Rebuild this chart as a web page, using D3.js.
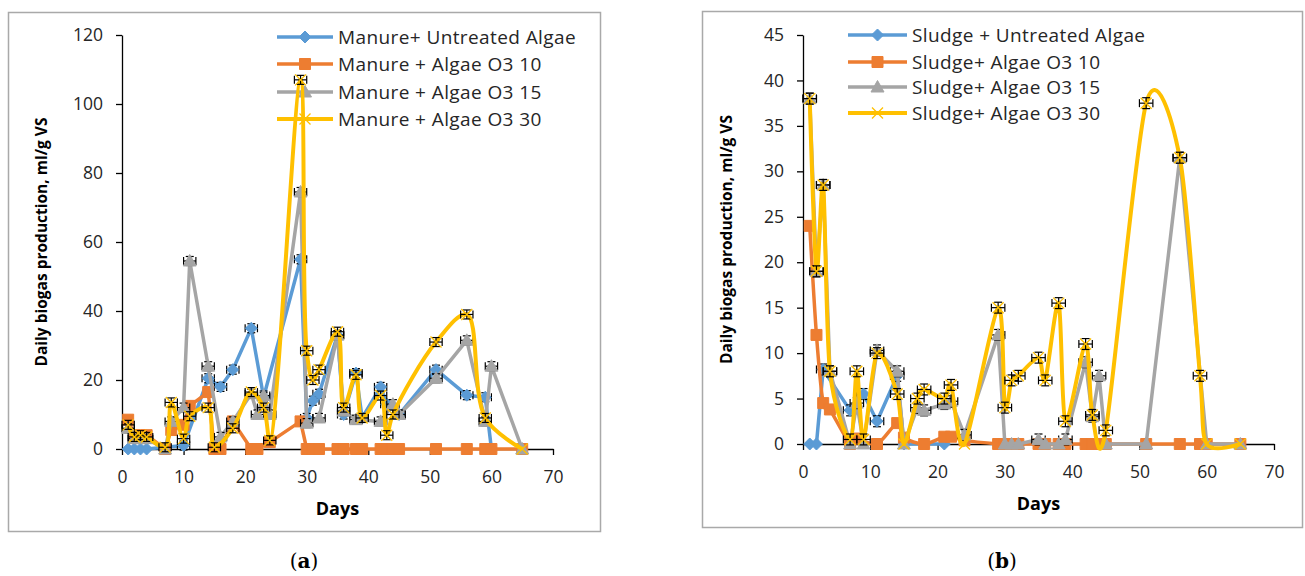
<!DOCTYPE html>
<html>
<head>
<meta charset="utf-8">
<script src="https://cdn.jsdelivr.net/npm/d3@7"></script>
<style>
body{margin:0;background:#fff;}
text{font-family:"Open Sans",sans-serif;}
</style>
</head>
<body>
<svg width="1305" height="576"></svg>
<script>
// ---- panel (a) data : manure ----
var daysA = [1,2,3,4,7,8,10,11,14,15,16,18,21,22,23,24,29,30,31,32,35,36,38,39,42,43,44,45,51,56,59,60,65];
var manureUntreated = [0,0,0,0,null,null,1,null,20.5,null,18,23,35,null,15,null,55,9,14,16,33,10,22,9,18,13,null,10,23,15.6,15,0,null];
var manureO3_10     = [8.5,4,4,4,0,5.5,7,12.5,16.5,0,0,8,0,0,null,2,8,0,0,0,0,0,0,0,0,0,0,0,0,0,0,0,0];
var manureO3_15     = [6,3,3,3,0,8,12,54.5,24,null,3.5,8,16,10,15.5,10,74.5,7.5,null,9,33,11,8.5,null,8,null,13,10,20.5,31.5,8,24,0];
var manureO3_30     = [7,3.5,4,3.5,0.5,13.5,3,9.5,12,0.5,null,6,16.5,null,12,2.5,107,28.5,20,23,34,12,21.5,9,15.5,4,10,null,31,39,9,null,0];

// ---- panel (b) data : sludge ----
var daysB = [1,2,3,4,7,8,9,11,14,15,17,18,21,22,24,29,30,31,32,35,36,38,39,42,43,44,45,51,56,59,60,65];
var sludgeUntreated = [0,0,8.2,null,3.7,null,5.5,2.5,7.5,0,null,0,0,null,null,null,null,null,null,null,null,null,null,null,null,null,null,null,null,null,null,null];
var sludgeO3_10     = [24,12,4.5,3.8,0,0.6,null,0,2.3,0.7,null,0,0.8,0.8,0.4,0,0,0,0,0,0,0,0,0,0,0,0,0,0,0,0,0];
var sludgeO3_15     = [38,19,28.5,8,0,4.5,0,10.3,8,0,4,3.7,4.4,4.7,1,12,0,0,0,0.5,0,0,0.5,9,3,7.5,0,0,31.5,null,0,0];
var sludgeO3_30     = [38,19,28.5,8,0.5,8,0.5,10,5.5,0,5,6,5,6.5,0,15,4,7,7.5,9.5,7,15.5,2.5,11,3.2,null,1.5,37.5,31.5,7.5,0,0];

var xTicks = [0,10,20,30,40,50,60,70];
var yTicksA = [0,20,40,60,80,100,120];
var yTicksB = [0,5,10,15,20,25,30,35,40,45];

var namesA = ["Manure+ Untreated Algae","Manure + Algae O3 10","Manure + Algae O3 15","Manure + Algae O3 30"];
var namesB = ["Sludge + Untreated Algae","Sludge+ Algae O3 10","Sludge+ Algae O3 15","Sludge+ Algae O3 30"];

var colors = ["#5b9bd5","#ed7d31","#a5a5a5","#ffc000"];
var markers = ["diamond","square","triangle","x"];

var svg = d3.select("svg");

function markerPath(type){
    if (type == "diamond") return "M0,-6L6,0L0,6L-6,0Z";
    if (type == "square") return "M-5.5,-5.5h11v11h-11Z";
    if (type == "triangle") return "M0,-6.5L6.5,5L-6.5,5Z";
    return "M-5.5,-5.5L5.5,5.5M-5.5,5.5L5.5,-5.5";
}

function drawMarker(sel, type, color){
    sel.append("path")
        .attr("d", markerPath(type))
        .attr("fill", type == "x" ? "none" : color)
        .attr("stroke", color)
        .attr("stroke-width", type == "x" ? 1.3 : 1);
}

function drawPanel(cfg){
    var g = svg.append("g");

    g.append("rect")
        .attr("x", cfg.box[0]).attr("y", cfg.box[1])
        .attr("width", cfg.box[2]).attr("height", cfg.box[3])
        .attr("fill", "none").attr("stroke", "#a9a9a9").attr("stroke-width", 1.5);

    var x = d3.scaleLinear().domain([0, 70]).range([cfg.left, cfg.right]);
    var y = d3.scaleLinear().domain([0, cfg.yMax]).range([cfg.bottom, cfg.top]);

    var xAxis = g.append("g")
        .attr("transform", "translate(0," + cfg.bottom + ")")
        .call(d3.axisBottom(x).tickValues(xTicks).tickSizeInner(6).tickSizeOuter(0).tickPadding(16));
    var yAxis = g.append("g")
        .attr("transform", "translate(" + cfg.left + ",0)")
        .call(d3.axisLeft(y).tickValues(cfg.yTicks).tickSizeInner(6).tickSizeOuter(0).tickPadding(13));

    [xAxis, yAxis].forEach(function(a){
        a.select(".domain").attr("stroke", "#000").attr("stroke-width", 1.3);
        a.selectAll(".tick line").attr("stroke", "#000").attr("stroke-width", 1.3);
        a.selectAll(".tick text")
            .attr("fill", "#262626")
            .style("font-size", "17.5px")
            .style("font-family", "'Open Sans', sans-serif");
    });
    xAxis.selectAll(".tick text").attr("dy", "0");
    xAxis.selectAll(".tick text").attr("y", 34);

    g.append("text")
        .attr("x", (cfg.left + cfg.right) / 2)
        .attr("y", cfg.bottom + 66)
        .attr("text-anchor", "middle")
        .style("font-size", "18px").style("font-weight", "bold")
        .attr("fill", "#000")
        .text("Days");

    g.append("text")
        .attr("transform", "translate(" + cfg.ylabX + "," + ((cfg.top + cfg.bottom) / 2) + ") rotate(-90)")
        .attr("text-anchor", "middle")
        .attr("dy", "0.35em")
        .style("font-size", "15.5px").style("font-weight", "bold")
        .attr("fill", "#000")
        .text("Daily biogas production, ml/g VS");

    cfg.series.forEach(function(s, i){
        var pts = cfg.days.map(function(d, j){ return {d: d, v: s[j]}; })
            .filter(function(p){ return p.v != null; });

        var line = d3.line()
            .x(function(p){ return x(p.d); })
            .y(function(p){ return y(p.v); })
            .curve(cfg.smooth[i] ? cfg.curve : d3.curveLinear);

        g.append("path")
            .datum(pts)
            .attr("d", line)
            .attr("fill", "none")
            .attr("stroke", colors[i])
            .attr("stroke-width", i == 3 ? 4 : 3.5)
            .attr("stroke-linejoin", "round");

        // error bars (x and y) on treated / untreated points
        if (i != 1) {
            var eb = g.append("g").attr("stroke", "#000").attr("stroke-width", 1.2);
            pts.filter(function(p){ return p.v > 0.3; }).forEach(function(p){
                var cx = x(p.d), cy = y(p.v);
                var hx = x(p.d + 1) - x(p.d);
                var hy = y(0) - y(cfg.errY);
                eb.append("line").attr("x1", cx - hx).attr("x2", cx + hx).attr("y1", cy).attr("y2", cy);
                eb.append("line").attr("x1", cx - hx).attr("x2", cx - hx).attr("y1", cy - 4).attr("y2", cy + 4);
                eb.append("line").attr("x1", cx + hx).attr("x2", cx + hx).attr("y1", cy - 4).attr("y2", cy + 4);
                eb.append("line").attr("x1", cx).attr("x2", cx).attr("y1", cy - hy).attr("y2", cy + hy);
                eb.append("line").attr("x1", cx - 4).attr("x2", cx + 4).attr("y1", cy - hy).attr("y2", cy - hy);
                eb.append("line").attr("x1", cx - 4).attr("x2", cx + 4).attr("y1", cy + hy).attr("y2", cy + hy);
            });
        }

        g.append("g").selectAll("g")
            .data(pts)
            .enter().append("g")
            .attr("transform", function(p){ return "translate(" + x(p.d) + "," + y(p.v) + ")"; })
            .each(function(){ drawMarker(d3.select(this), markers[i], colors[i]); });

        // legend
        var ly = cfg.legY[i];
        g.append("line")
            .attr("x1", cfg.legX[0]).attr("x2", cfg.legX[1])
            .attr("y1", ly).attr("y2", ly)
            .attr("stroke", colors[i]).attr("stroke-width", i == 3 ? 4 : 3.5);
        drawMarker(g.append("g").attr("transform", "translate(" + ((cfg.legX[0] + cfg.legX[1]) / 2) + "," + ly + ")"), markers[i], colors[i]);
        g.append("text")
            .attr("x", cfg.legX[1] + 5)
            .attr("y", ly)
            .attr("dy", "0.36em")
            .style("font-size", "19px")
            .style("letter-spacing", "0.4px")
            .attr("fill", "#262626")
            .text(cfg.names[i]);
    });

    var lab = g.append("text")
        .attr("x", cfg.tagX).attr("y", 568)
        .attr("text-anchor", "middle")
        .style("font-family", "'DejaVu Serif', serif")
        .style("font-size", "20px")
        .attr("fill", "#000");
    lab.append("tspan").text("(");
    lab.append("tspan").style("font-weight", "bold").text(cfg.tag);
    lab.append("tspan").text(")");
}

drawPanel({
    box: [8.5, 12.5, 592, 519],
    left: 122, right: 553, top: 35, bottom: 449,
    yMax: 120, yTicks: yTicksA, errY: 1.3,
    ylabX: 42,
    days: daysA,
    series: [manureUntreated, manureO3_10, manureO3_15, manureO3_30],
    smooth: [false, false, false, true],
    curve: d3.curveCatmullRom.alpha(0.5),
    names: namesA,
    legX: [277, 333], legY: [37, 64, 92, 119],
    tagX: 304, tag: "a"
});

drawPanel({
    box: [702.5, 11.5, 600, 516],
    left: 803, right: 1274, top: 35, bottom: 444,
    yMax: 45, yTicks: yTicksB, errY: 0.6,
    ylabX: 727,
    days: daysB,
    series: [sludgeUntreated, sludgeO3_10, sludgeO3_15, sludgeO3_30],
    smooth: [false, true, false, true],
    curve: d3.curveCardinal.tension(0.15),
    names: namesB,
    legX: [848, 907], legY: [35, 62, 87, 113],
    tagX: 1002, tag: "b"
});
</script>
</body>
</html>
